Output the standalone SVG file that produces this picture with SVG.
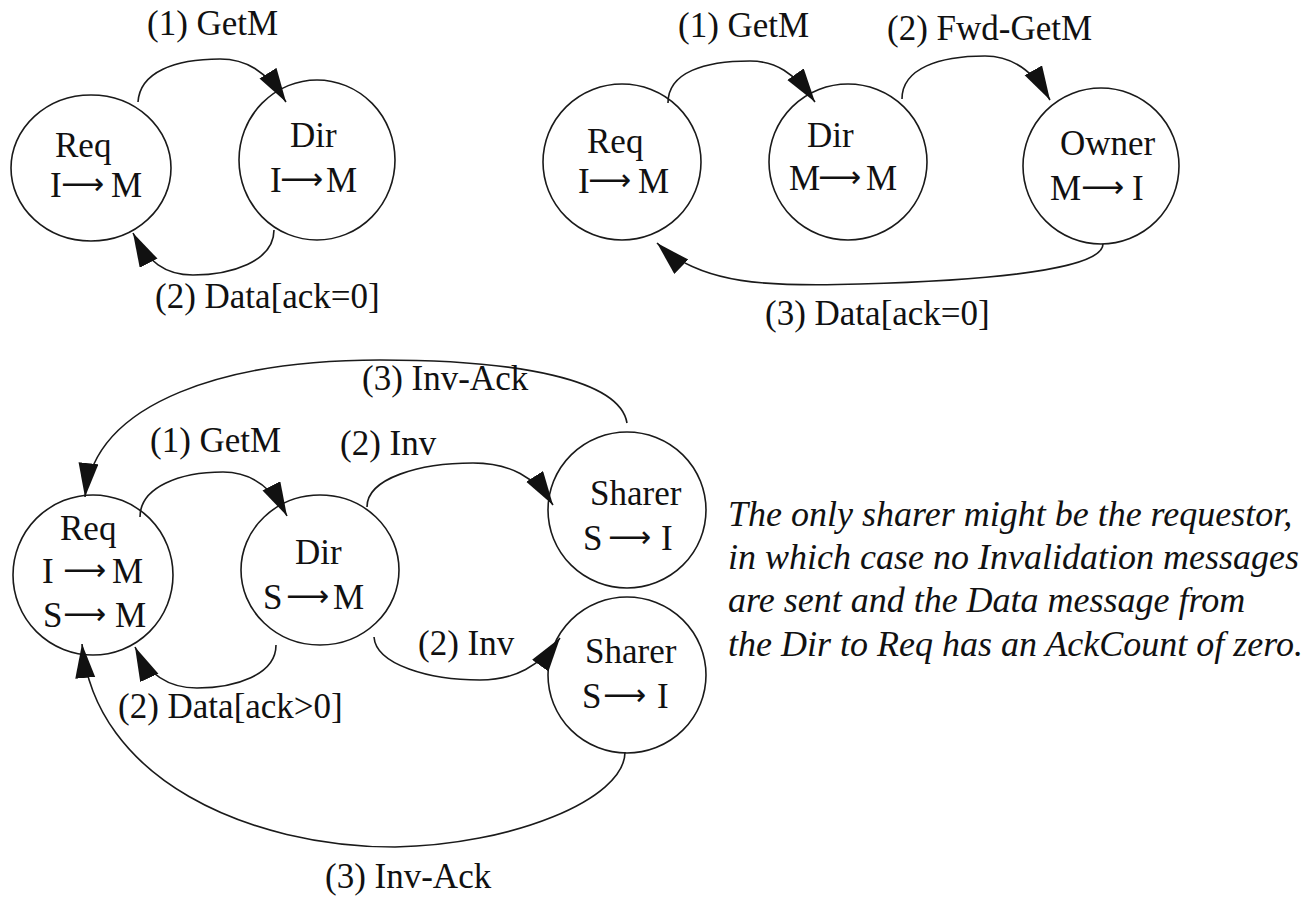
<svg xmlns="http://www.w3.org/2000/svg" width="1307" height="902" viewBox="0 0 1307 902">
  <style>
    .node { fill: none; stroke: #1a1a1a; stroke-width: 1.6; }
    .edge { fill: none; stroke: #1a1a1a; stroke-width: 1.6; marker-end: url(#head); }
    text { font-family: "Liberation Serif", "Times New Roman", serif; font-size: 35px; fill: #111; }
    .arr { font-family: "DejaVu Sans", "Liberation Serif", sans-serif; font-size: 30px; }
    .note { font-style: italic; font-size: 36px; }
  </style>
  <defs>
    <marker id="head" markerUnits="userSpaceOnUse" markerWidth="36" markerHeight="22" refX="34" refY="10" orient="auto">
      <path d="M0,0 L34,10 L0,20 z" fill="#111"/>
    </marker>
  </defs>
  <rect width="1307" height="902" fill="#fff"/>

  <!-- Case 1: Req in I, directory in I -->
  <g id="a-req">
    <ellipse class="node" cx="91" cy="168" rx="80" ry="73"/>
    <text x="55" y="157">Req</text>
    <text y="197"><tspan x="50">I</tspan><tspan class="arr" x="61" y="194">⟶</tspan><tspan x="111" y="197">M</tspan></text>
  </g>
  <g id="a-dir">
    <ellipse class="node" cx="317" cy="160" rx="78" ry="80"/>
    <text x="290" y="147">Dir</text>
    <text y="192"><tspan x="270">I</tspan><tspan class="arr" x="280" y="189">⟶</tspan><tspan x="326" y="192">M</tspan></text>
  </g>

  <!-- Case 2: block owned by another cache -->
  <g id="b-req">
    <ellipse class="node" cx="622" cy="162" rx="79" ry="78"/>
    <text x="587" y="153">Req</text>
    <text y="193"><tspan x="578">I</tspan><tspan class="arr" x="588" y="190">⟶</tspan><tspan x="638" y="193">M</tspan></text>
  </g>
  <g id="b-dir">
    <ellipse class="node" cx="848" cy="162" rx="79" ry="78"/>
    <text x="807" y="147">Dir</text>
    <text y="190"><tspan x="789">M</tspan><tspan class="arr" x="818" y="187">⟶</tspan><tspan x="866" y="190">M</tspan></text>
  </g>
  <g id="b-owner">
    <ellipse class="node" cx="1101" cy="166" rx="78" ry="78"/>
    <text x="1060" y="155">Owner</text>
    <text y="200"><tspan x="1050">M</tspan><tspan class="arr" x="1081" y="197">⟶</tspan><tspan x="1132" y="200">I</tspan></text>
  </g>

  <!-- Case 3: block shared -->
  <g id="c-req">
    <ellipse class="node" cx="93" cy="575" rx="80" ry="80"/>
    <text x="60" y="540">Req</text>
    <text y="583"><tspan x="42">I</tspan><tspan class="arr" x="63" y="580">⟶</tspan><tspan x="112" y="583">M</tspan></text>
    <text y="627"><tspan x="43">S</tspan><tspan class="arr" x="63" y="624">⟶</tspan><tspan x="115" y="627">M</tspan></text>
  </g>
  <g id="c-dir">
    <ellipse class="node" cx="320" cy="570" rx="79" ry="75"/>
    <text x="295" y="564">Dir</text>
    <text y="609"><tspan x="263">S</tspan><tspan class="arr" x="286" y="606">⟶</tspan><tspan x="333" y="609">M</tspan></text>
  </g>
  <g id="c-sharer1">
    <ellipse class="node" cx="627" cy="510" rx="79" ry="78"/>
    <text x="590" y="505">Sharer</text>
    <text y="550"><tspan x="583">S</tspan><tspan class="arr" x="608" y="547">⟶</tspan><tspan x="661" y="550">I</tspan></text>
  </g>
  <g id="c-sharer2">
    <ellipse class="node" cx="627" cy="675" rx="79" ry="78"/>
    <text x="585" y="663">Sharer</text>
    <text y="708"><tspan x="582">S</tspan><tspan class="arr" x="603" y="705">⟶</tspan><tspan x="657" y="708">I</tspan></text>
  </g>

  <!-- Messages -->
  <g id="connectors">
    <path class="edge" d="M138,102 C140,72 175,59 220,59 C245,59 266,70 286,102"/>
    <path class="edge" d="M274,230 C274,262 230,275 193,275 C165,275 148,262 133,233"/>

    <path class="edge" d="M668,103 C668,72 705,61 750,61 C775,61 794,72 815,102"/>
    <path class="edge" d="M902,99 C902,68 940,56 985,56 C1010,56 1032,68 1050,100"/>
    <path class="edge" d="M1103,244 C1103,268 1000,280 860,284 C770,287 700,285 657,243"/>

    <path class="edge" d="M140,517 C140,487 180,472 223,472 C250,472 272,487 287,516"/>
    <path class="edge" d="M367,507 C367,478 420,463 473,463 C510,463 535,477 553,505"/>
    <path class="edge" d="M627,423 C620,380 520,360 380,360 C230,360 95,400 85,497"/>
    <path class="edge" d="M374,637 C376,665 430,680 480,680 C515,680 540,666 560,638"/>
    <path class="edge" d="M276,645 C276,675 235,688 197,688 C170,688 148,675 135,647"/>
    <path class="edge" d="M625,752 C625,800 510,845 395,847 C250,847 95,780 82,644"/>
  </g>

  <g id="labels">
    <text x="147" y="35">(1) GetM</text>
    <text x="155" y="308">(2) Data[ack=0]</text>
    <text x="678" y="37">(1) GetM</text>
    <text x="887" y="40">(2) Fwd-GetM</text>
    <text x="765" y="325">(3) Data[ack=0]</text>
    <text x="362" y="390">(3) Inv-Ack</text>
    <text x="150" y="452">(1) GetM</text>
    <text x="340" y="455">(2) Inv</text>
    <text x="418" y="655">(2) Inv</text>
    <text x="118" y="718">(2) Data[ack&gt;0]</text>
    <text x="325" y="888">(3) Inv-Ack</text>
  </g>

  <g id="note">
    <text class="note" x="728" y="526">The only sharer might be the requestor,</text>
    <text class="note" x="728" y="569">in which case no Invalidation messages</text>
    <text class="note" x="728" y="612">are sent and the Data message from</text>
    <text class="note" x="728" y="656">the Dir to Req has an AckCount of zero.</text>
  </g>
</svg>
